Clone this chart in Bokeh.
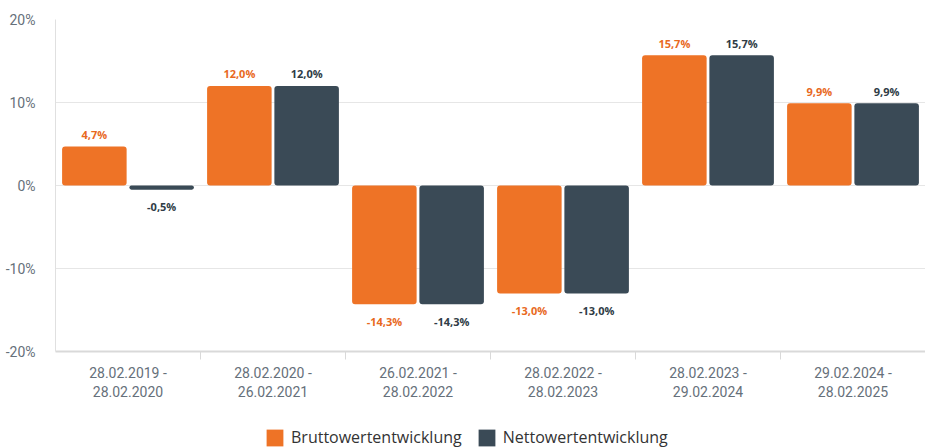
from bokeh.plotting import figure
from bokeh.models import ColumnDataSource, FixedTicker, Legend, LegendItem, Range1d
from bokeh.layouts import column
from bokeh.core.properties import value
from bokeh.embed import file_html
from bokeh.resources import INLINE

periods = ["28.02.2019 -\n28.02.2020", "28.02.2020 -\n26.02.2021", "26.02.2021 -\n28.02.2022",
           "28.02.2022 -\n28.02.2023", "28.02.2023 -\n29.02.2024", "29.02.2024 -\n28.02.2025"]
brutto = [4.7, 12.0, -14.3, -13.0, 15.7, 9.9]
netto = [-0.5, 12.0, -14.3, -13.0, 15.7, 9.9]
y_ticks = [-20, -10, 0, 10, 20]
series_names = ["Bruttowertentwicklung", "Nettowertentwicklung"]

ORANGE = "#EE7326"
DARK = "#3A4A56"
GRAY = "#66707a"
FONT = "Roboto"

p = figure(width=925, height=402, output_backend="svg", toolbar_location=None,
           x_range=Range1d(0, len(periods)), y_range=Range1d(-20, 20),
           min_border_left=55, min_border_right=0, min_border_top=19, min_border_bottom=40)
p.outline_line_color = None
p.background_fill_color = "white"
p.border_fill_color = "white"

centers = [i + 0.5 for i in range(len(periods))]
off = 0.232
bw = 0.445

def fmt(v):
    return ("%.1f%%" % v).replace(".", ",")

def make_src(vals, dx):
    return ColumnDataSource(dict(
        x=[c + dx for c in centers],
        top=vals,
        lab=[fmt(v) for v in vals],
        yoff=[-12 if v >= 0 else 17 for v in vals],
    ))

sb = make_src(brutto, -off)
sn = make_src(netto, off)

p.vbar(x="x", top="top", bottom=0, width=bw, source=sb, fill_color=ORANGE, line_color=None,
       border_radius=3)
p.vbar(x="x", top="top", bottom=0, width=bw, source=sn, fill_color=DARK, line_color=None,
       border_radius=3)

p.text(x="x", y="top", text="lab", y_offset="yoff", source=sb, text_align="center",
       text_baseline="middle", text_font=value("Open Sans"), text_font_size="11px",
       text_font_style="bold", text_color="#E8691E")
p.text(x="x", y="top", text="lab", y_offset="yoff", source=sn, text_align="center",
       text_baseline="middle", text_font=value("Open Sans"), text_font_size="11px",
       text_font_style="bold", text_color="#2f3c46")

# axes
p.xaxis.ticker = FixedTicker(ticks=centers, minor_ticks=list(range(1, len(periods))))
p.xaxis.major_label_overrides = {c: lab for c, lab in zip(centers, periods)}
p.xaxis.major_tick_line_color = None
p.xaxis.major_tick_out = 0
p.xaxis.major_tick_in = 0
p.xaxis.minor_tick_out = 8
p.xaxis.minor_tick_in = 0
p.xaxis.minor_tick_line_color = "#d9d9d9"
p.xaxis.axis_line_color = "#d9d9d9"
p.xaxis.axis_line_width = 2
p.xaxis.major_label_text_font = FONT
p.xaxis.major_label_text_font_size = "14px"
p.xaxis.major_label_text_color = GRAY
p.xaxis.major_label_standoff = 5

p.yaxis.ticker = FixedTicker(ticks=y_ticks)
p.yaxis.major_label_overrides = {t: "%d%%" % t for t in y_ticks}
p.yaxis.major_tick_line_color = None
p.yaxis.major_tick_out = 0
p.yaxis.major_tick_in = 0
p.yaxis.minor_tick_line_color = None
p.yaxis.axis_line_color = "#e0e0e0"
p.yaxis.major_label_text_font = FONT
p.yaxis.major_label_text_font_size = "14px"
p.yaxis.major_label_text_color = GRAY
p.yaxis.major_label_standoff = 20

p.xgrid.grid_line_color = None
p.ygrid.grid_line_color = "#e6e6e6"

# legend panel
lg = figure(width=925, height=46, output_backend="svg", toolbar_location=None,
            x_range=Range1d(0, 1), y_range=Range1d(0, 1),
            min_border_left=55, min_border_right=0, min_border_top=0, min_border_bottom=0)
lg.axis.visible = False
lg.grid.visible = False
lg.outline_line_color = None
lg.border_fill_color = "white"
lr1 = lg.vbar(x=[0.5], top=[0], bottom=[0], width=0.0, fill_color=ORANGE, line_color=None)
lr2 = lg.vbar(x=[0.5], top=[0], bottom=[0], width=0.0, fill_color=DARK, line_color=None)
legend = Legend(items=[LegendItem(label=series_names[0], renderers=[lr1]),
                       LegendItem(label=series_names[1], renderers=[lr2])],
                orientation="horizontal", location=(209, 0),
                label_text_font="Open Sans", label_text_font_size="16px", label_text_color="#333333",
                glyph_width=21, glyph_height=21, spacing=14, label_standoff=6,
                border_line_color=None, background_fill_alpha=0, padding=0, margin=0)
lg.add_layout(legend, "center")

layout = column(p, lg, spacing=0)
open("out.html", "w").write(file_html(layout, INLINE))
